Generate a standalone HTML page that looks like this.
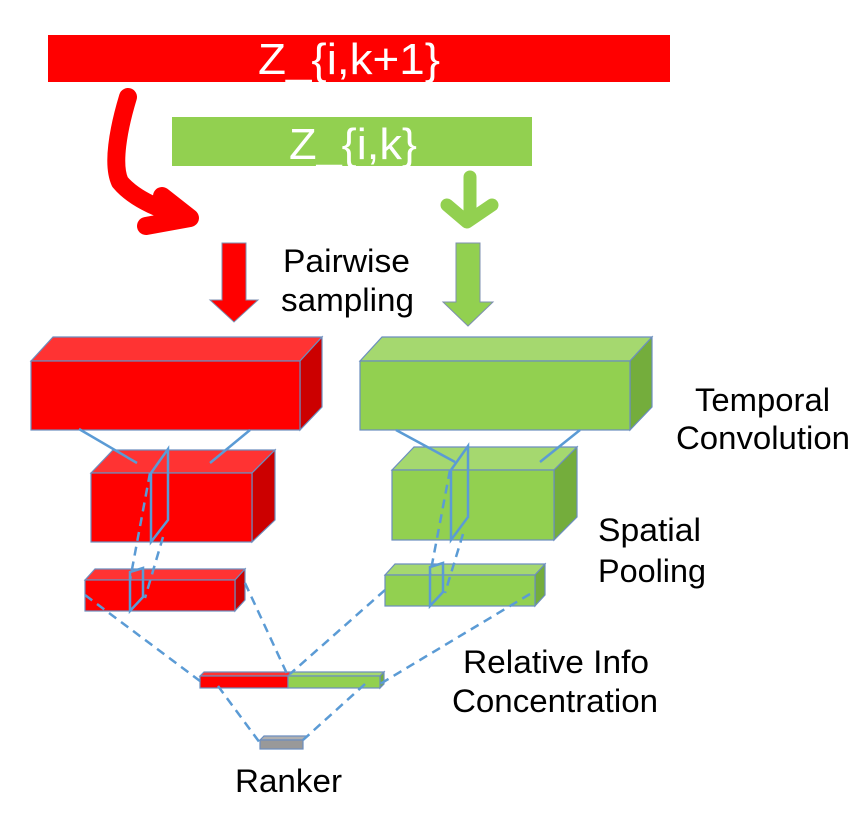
<!DOCTYPE html>
<html><head><style>body{margin:0;background:#fff}svg{display:block}</style></head><body>
<svg width="866" height="814" xmlns="http://www.w3.org/2000/svg" font-family="Liberation Sans, sans-serif">
<rect x="48" y="35" width="622" height="47" fill="#ff0000"/>
<text x="258" y="74" font-size="44" fill="#fff" textLength="182" lengthAdjust="spacingAndGlyphs">Z_{i,k+1}</text>
<rect x="172" y="117" width="360" height="49" fill="#92d050"/>
<text x="289" y="159" font-size="44" fill="#fff" textLength="128" lengthAdjust="spacingAndGlyphs">Z_{i,k}</text>
<g fill="none" stroke="#ff0000" stroke-width="18" stroke-linecap="round" stroke-linejoin="round">
<path d="M128,97 C118,130 112,165 120,182 C135,200 165,212 188,217"/>
<path d="M162,196 L190,218 L146,226"/>
</g>
<g fill="none" stroke="#92d050" stroke-width="13" stroke-linecap="round" stroke-linejoin="round">
<path d="M470,177 L470,218"/><path d="M447,205 L467,222 L492,205"/>
</g>
<polygon points="222,243 246,243 246,300 258,300 234,322 210,300 222,300" fill="#ff0000" stroke="#7d8fb0"/>
<polygon points="456,243 480,243 480,302 493,302 468,326 443,302 456,302" fill="#92d050" stroke="#7d8fb0"/>
<g font-size="32">
<text x="283" y="272" textLength="127" lengthAdjust="spacingAndGlyphs">Pairwise</text>
<text x="281" y="311" textLength="133" lengthAdjust="spacingAndGlyphs">sampling</text>
</g>
<g stroke="#6c8ebf" stroke-width="1.2">
<polygon points="31,361 53,337 322,337 300,361" fill="#ff3333"/>
<polygon points="300,361 322,337 322,407 300,430" fill="#cc0000"/>
<rect x="31" y="361" width="269" height="69" fill="#ff0000"/>
<polygon points="360,361 382,337 652,337 630,361" fill="#a5d86f"/>
<polygon points="630,361 652,337 652,407 630,430" fill="#74ad3c"/>
<rect x="360" y="361" width="270" height="69" fill="#92d050"/>
<polygon points="91,473 113,450 275,450 252,473" fill="#ff3333"/>
<polygon points="252,473 275,450 275,520 252,542" fill="#cc0000"/>
<rect x="91" y="473" width="161" height="69" fill="#ff0000"/>
<polygon points="392,470 414,447 577,447 554,470" fill="#a5d86f"/>
<polygon points="554,470 577,447 577,517 554,540" fill="#74ad3c"/>
<rect x="392" y="470" width="162" height="70" fill="#92d050"/>
<polygon points="85,580 95,569 245,569 235,580" fill="#ff3333"/>
<polygon points="235,580 245,569 245,600 235,611" fill="#cc0000"/>
<rect x="85" y="580" width="150" height="31" fill="#ff0000"/>
<polygon points="385,575 395,564 545,564 535,575" fill="#a5d86f"/>
<polygon points="535,575 545,564 545,595 535,606" fill="#74ad3c"/>
<rect x="385" y="575" width="150" height="31" fill="#92d050"/>
<polygon points="200,676 204,672 292,672 288,676" fill="#ff3333"/>
<rect x="200" y="676" width="88" height="12" fill="#ff0000"/>
<polygon points="288,676 292,672 384,672 380,676" fill="#a5d86f"/>
<polygon points="380,676 384,672 384,684 380,688" fill="#74ad3c"/>
<rect x="288" y="676" width="92" height="12" fill="#92d050"/>
<polygon points="260,740 264,736 307,736 303,740" fill="#b0b0b0"/>
<rect x="260" y="740" width="43" height="9" fill="#999"/>
</g>
<g fill="none" stroke="#5b9bd5" stroke-width="2.5">
<path d="M79,429 L137,463 M250,430 L210,463 M396,430 L455,462 M580,430 L540,462"/>
<path d="M151,473 L168,449 L168,520 L151,542 Z M130,611 L130,572 L143,568 L143,597 Z"/>
<path d="M451,470 L468,446 L468,517 L451,540 Z M430,606 L430,567 L443,563 L443,592 Z"/>
</g>
<g fill="none" stroke="#5b9bd5" stroke-width="2.5" stroke-dasharray="9,6">
<path d="M150,473 L130,580 M163,537 L145,598 M450,470 L430,575 M463,534 L445,593"/>
<path d="M85,595 L200,681 M245,583 L288,676 M385,590 L290,674 M530,594 L380,684 M218,686 L260,743 M365,684 L303,740"/>
</g>
<g font-size="32" lengthAdjust="spacingAndGlyphs">
<text x="695" y="411" textLength="135" lengthAdjust="spacingAndGlyphs">Temporal</text>
<text x="676" y="449" textLength="174" lengthAdjust="spacingAndGlyphs">Convolution</text>
<text x="598" y="541" textLength="103" lengthAdjust="spacingAndGlyphs">Spatial</text>
<text x="598" y="582" textLength="108" lengthAdjust="spacingAndGlyphs">Pooling</text>
<text x="463" y="673" textLength="186" lengthAdjust="spacingAndGlyphs">Relative Info</text>
<text x="452" y="712" textLength="206" lengthAdjust="spacingAndGlyphs">Concentration</text>
<text x="235" y="792" textLength="107" lengthAdjust="spacingAndGlyphs">Ranker</text>
</g>
</svg>
</body></html>
